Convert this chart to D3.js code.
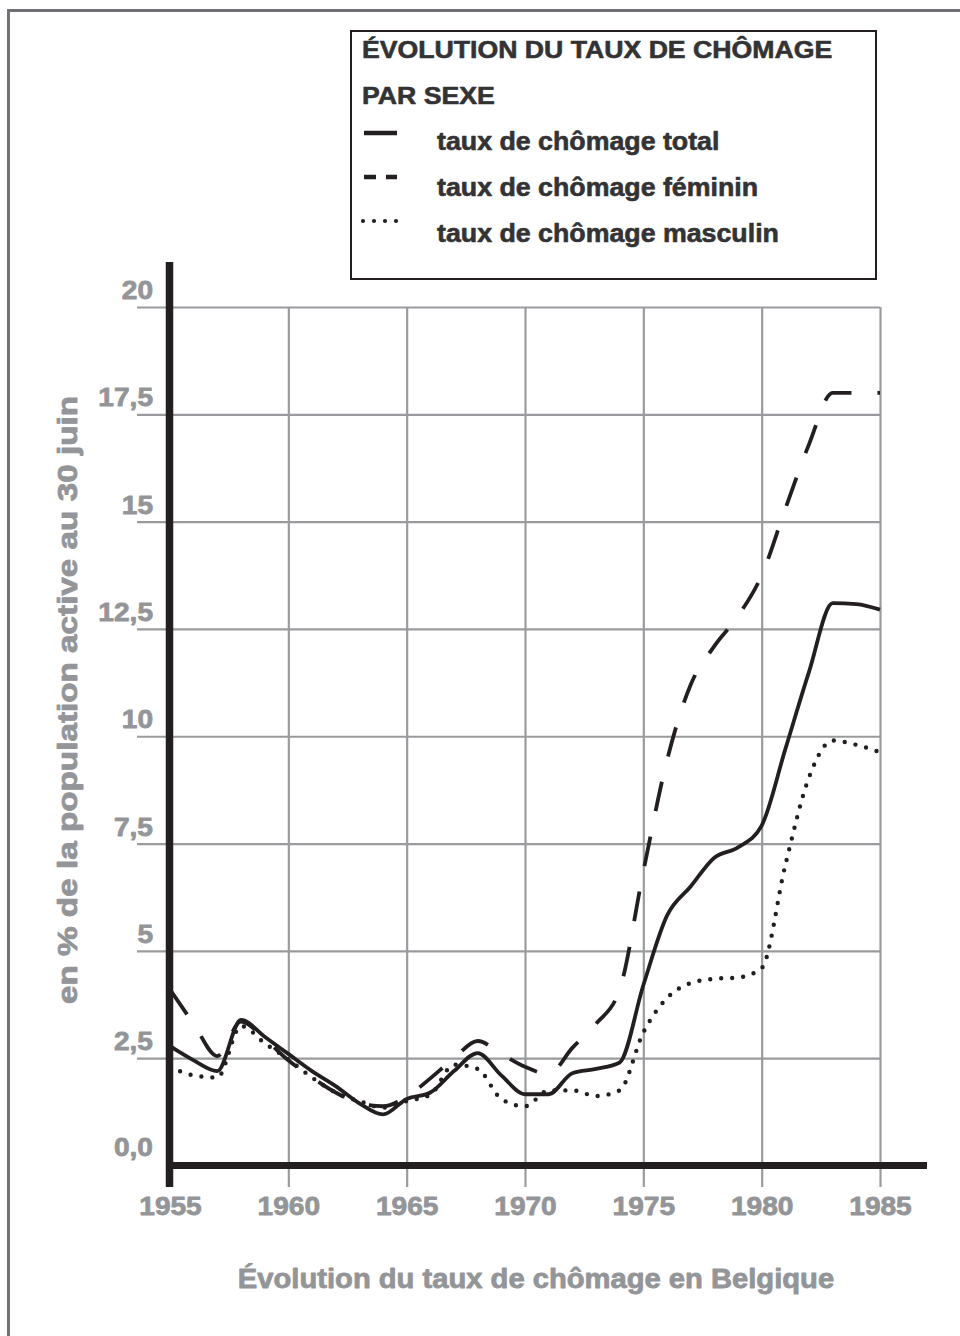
<!DOCTYPE html>
<html>
<head>
<meta charset="utf-8">
<script src="https://cdn.jsdelivr.net/npm/d3@7"></script>
<style>
  html, body { margin: 0; padding: 0; background: #fff; }
  svg { display: block; font-family: "Liberation Sans", Arial, Helvetica, sans-serif; }
</style>
</head>
<body>
<svg id="chart" width="960" height="1336"></svg>
<script>
// ---------------- DATA ----------------
const years = [1955,1956,1957,1958,1959,1960,1961,1962,1963,1964,1965,1966,1967,1968,1969,1970,
               1971,1972,1973,1974,1975,1976,1977,1978,1979,1980,1981,1982,1983,1984,1985];
const tauxTotal    = [2.78,2.45,2.2,3.39,3.0,2.6,2.2,1.85,1.45,1.19,1.55,1.7,2.2,2.62,2.1,1.66,
                      1.66,2.15,2.25,2.4,4.2,5.82,6.5,7.17,7.41,7.92,9.7,11.5,13.1,13.08,12.95];
const tauxFeminin  = [4.1,3.3,2.55,3.35,2.95,2.45,2.05,1.7,1.45,1.38,1.6,2.03,2.5,2.9,2.6,2.3,
                      2.13,2.74,3.3,4.1,6.85,9.44,11.2,12.1,12.8,13.75,15.3,16.8,18.0,18.0,18.0];
const tauxMasculin = [2.3,2.1,2.05,3.25,2.85,2.47,2.05,1.7,1.5,1.35,1.5,1.65,2.35,2.25,1.55,1.38,
                      1.75,1.75,1.62,1.75,3.1,3.9,4.25,4.35,4.38,4.6,7.0,9.04,9.9,9.8,9.63];
const xTickValues = [1955,1960,1965,1970,1975,1980,1985];
const yTickValues = [0,2.5,5,7.5,10,12.5,15,17.5,20];
const yTickLabels = ["0,0","2,5","5","7,5","10","12,5","15","17,5","20"];
const legendTitle = ["ÉVOLUTION DU TAUX DE CHÔMAGE","PAR SEXE"];
const seriesNames = ["taux de chômage total","taux de chômage féminin","taux de chômage masculin"];
const yAxisTitle = "en % de la population active au 30 juin";
const xAxisTitle = "Évolution du taux de chômage en Belgique";

// ---------------- DRAW ----------------
const svg = d3.select("#chart");
const GRAY = "#939598", DARK = "#231f20", GRID = "#9a9b9e", TXT = "#333335";
const STRETCH = 1.08;
function stretch(sel, k) {
  sel.each(function() {
    const w = this.getComputedTextLength();
    d3.select(this).attr("textLength", w * k).attr("lengthAdjust", "spacingAndGlyphs");
  });
}
function embolden(sel, color, w) {
  sel.attr("stroke", color).attr("stroke-width", w).attr("stroke-linejoin", "round");
}

// outer frame (extends beyond view on right/bottom)
svg.append("rect").attr("x", 8.5).attr("y", 10.5).attr("width", 1000).attr("height", 1400)
  .attr("fill", "none").attr("stroke", "#707174").attr("stroke-width", 3);

const x = d3.scaleLinear().domain([1955, 1985]).range([170, 880]);
const y = d3.scaleLinear().domain([0, 20]).range([1165.5, 307]);

// vertical grid via axis
const gx = svg.append("g").attr("transform", `translate(0,${y(0) + 21.5})`)
  .call(d3.axisTop(x).tickValues(xTickValues.slice(1)).tickSize(y(0) + 21.5 - y(20)).tickFormat(""));
gx.select(".domain").remove();
gx.selectAll(".tick line").attr("stroke", GRID).attr("stroke-width", 2.2);

// horizontal grid via axis
const gy = svg.append("g").attr("transform", `translate(${x(1985)},0)`)
  .call(d3.axisLeft(y).tickValues(yTickValues.slice(1)).tickSize(x(1985) - 137).tickFormat(""));
gy.select(".domain").remove();
gy.selectAll(".tick line").attr("stroke", GRID).attr("stroke-width", 2.2);

// y tick labels via axis
const gyl = svg.append("g").attr("transform", "translate(153,0)")
  .call(d3.axisLeft(y).tickValues(yTickValues).tickSize(0).tickPadding(0)
    .tickFormat((d, i) => yTickLabels[i]));
gyl.select(".domain").remove();
gyl.selectAll(".tick text")
  .attr("x", 0).attr("dy", null).attr("y", d => d === 0 ? -10.5 : -8.5)
  .attr("fill", GRAY).attr("font-size", 26).attr("font-weight", "bold")
  .attr("font-family", "Liberation Sans, Arial, sans-serif").attr("text-anchor", "end");
embolden(gyl.selectAll(".tick text"), GRAY, 0.8);
stretch(gyl.selectAll(".tick text"), STRETCH);

// x tick labels via axis
const gxl = svg.append("g").attr("transform", "translate(0,1215)")
  .call(d3.axisBottom(x).tickValues(xTickValues).tickSize(0).tickPadding(0).tickFormat(d3.format("d")));
gxl.select(".domain").remove();
gxl.selectAll(".tick text").attr("y", 0).attr("dy", null)
  .attr("fill", GRAY).attr("font-size", 26).attr("font-weight", "bold")
  .attr("font-family", "Liberation Sans, Arial, sans-serif");
embolden(gxl.selectAll(".tick text"), GRAY, 0.8);
stretch(gxl.selectAll(".tick text"), STRETCH);

// thick axes
svg.append("line").attr("x1", 169.5).attr("x2", 169.5).attr("y1", 262).attr("y2", 1187)
  .attr("stroke", DARK).attr("stroke-width", 7.5);
svg.append("line").attr("x1", 166).attr("x2", 927).attr("y1", y(0)).attr("y2", y(0))
  .attr("stroke", DARK).attr("stroke-width", 7);

// lines
const line = d3.line().x((d, i) => x(years[i])).y(d => y(d)).curve(d3.curveMonotoneX);
const styles = [
  { data: tauxTotal, dash: null, cap: "butt", w: 3.8 },
  { data: tauxFeminin, dash: "30,26", cap: "butt", w: 3.8 },
  { data: tauxMasculin, dash: "0,11", cap: "round", w: 4.4 }
];
styles.forEach(s => {
  svg.append("path").datum(s.data).attr("d", line)
    .attr("fill", "none").attr("stroke", DARK).attr("stroke-width", s.w)
    .attr("stroke-linecap", s.cap).attr("stroke-linejoin", "round")
    .attr("stroke-dasharray", s.dash);
});

// legend
svg.append("rect").attr("x", 351).attr("y", 31).attr("width", 525).attr("height", 248)
  .attr("fill", "#fff").attr("stroke", DARK).attr("stroke-width", 2);
const lt = svg.append("g").selectAll("text").data(legendTitle).join("text")
  .attr("x", 362).attr("y", (d, i) => 58 + i * 46)
  .attr("fill", TXT).attr("font-size", 24).attr("font-weight", "bold").text(d => d);
embolden(lt, TXT, 0.6);
stretch(lt, 1.11);
const legY = [150, 196, 242];
const li = svg.append("g").selectAll("text").data(seriesNames).join("text")
  .attr("x", 437).attr("y", (d, i) => legY[i])
  .attr("fill", TXT).attr("font-size", 25).attr("font-weight", "bold").text(d => d);
embolden(li, TXT, 0.6);
stretch(li, 1.07);
svg.append("line").attr("x1", 364).attr("x2", 397).attr("y1", 133).attr("y2", 133)
  .attr("stroke", DARK).attr("stroke-width", 4.5);
svg.append("line").attr("x1", 364).attr("x2", 397).attr("y1", 177).attr("y2", 177)
  .attr("stroke", DARK).attr("stroke-width", 4.5).attr("stroke-dasharray", "12,10");
svg.append("line").attr("x1", 363).attr("x2", 397).attr("y1", 221).attr("y2", 221)
  .attr("stroke", DARK).attr("stroke-width", 4.2).attr("stroke-linecap", "round").attr("stroke-dasharray", "0,11");

// axis titles
const yt = svg.append("text").attr("transform", "translate(77,700) rotate(-90)")
  .attr("text-anchor", "middle").attr("fill", GRAY).attr("font-size", 27).attr("font-weight", "bold")
  .text(yAxisTitle);
embolden(yt, GRAY, 0.8);
yt.attr("textLength", 608).attr("lengthAdjust", "spacingAndGlyphs");
const xt = svg.append("text").attr("x", 536).attr("y", 1288)
  .attr("text-anchor", "middle").attr("fill", GRAY).attr("font-size", 27).attr("font-weight", "bold")
  .text(xAxisTitle);
embolden(xt, GRAY, 0.8);
stretch(xt, STRETCH);
</script>
</body>
</html>
